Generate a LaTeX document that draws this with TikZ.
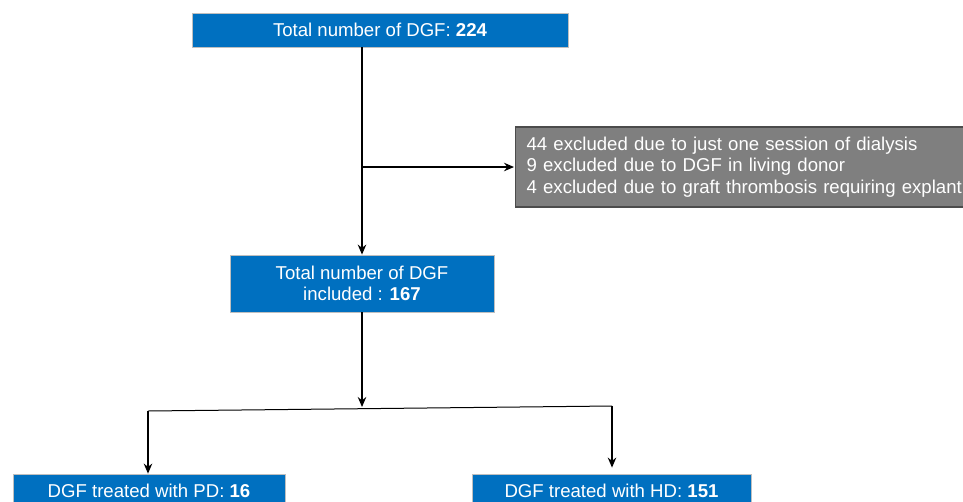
\documentclass[tikz,border=0pt]{standalone}
\usepackage{fontspec}
\setmainfont{Liberation Sans}
\usetikzlibrary{arrows,arrows.meta,positioning}
\definecolor{dgfblue}{HTML}{0070C0}
\definecolor{exclgray}{HTML}{7F7F7F}
\tikzstyle{blueblock} = [rectangle, draw=black!25, fill=dgfblue, text=white,
line width=0.8pt, align=center, inner sep=0pt,
font=\fontsize{18.6}{21}\selectfont]
\tikzstyle{exclblock} = [rectangle, draw=black!70, fill=exclgray, text=white,
line width=1.2pt, align=left, text width=450pt, inner xsep=11pt,
minimum height=80pt, font=\fontsize{18.6}{21.5}\selectfont]
\tikzstyle{arrow} = [line width=1.4pt,->,>={Stealth[length=10pt,width=8.5pt]}]
\tikzstyle{line} = [line width=1pt]

\begin{document}
\begin{tikzpicture}[x=1pt,y=-1pt]
            \clip (0,0) rectangle (963,501);
            \node[blueblock, minimum width=376pt, minimum height=34pt] (total)
            at (380,30) {Total number of DGF: \textbf{224}};
            \node[blueblock, minimum width=264pt, minimum height=57pt] (incl)
            at (362,283.5) {Total number of DGF\\included : \textbf{167}};
            \node[exclblock, anchor=west] (excl) at (515,167)
            {44 excluded due to just one session of dialysis\\
            9 excluded due to DGF in living donor\\
            4 excluded due to graft thrombosis requiring explant};
            \node[blueblock, minimum width=272pt, minimum height=34pt] (pd)
            at (149,491) {DGF treated with PD: \textbf{16}};
            \node[blueblock, minimum width=279pt, minimum height=34pt] (hd)
            at (611.5,491) {DGF treated with HD: \textbf{151}};
            % branch points
            \coordinate (brk) at (362,167);
            \coordinate (mid) at (362,407);
            \coordinate (sl) at (148,411);
            \coordinate (sr) at (612,406);
            \draw [arrow] (total.south -| incl.north) -- (incl.north);
            \draw [arrow, shorten >=1pt] (brk) -- (excl.west);
            \draw [arrow] (incl.south) -- (mid);
            \draw [line] (sl) -- (sr);
            \draw [arrow] (sl) -- (pd.north -| sl);
            \draw [arrow, shorten >=6pt] (sr) -- (hd.north -| sr);
        \end{tikzpicture}
\end{document}
